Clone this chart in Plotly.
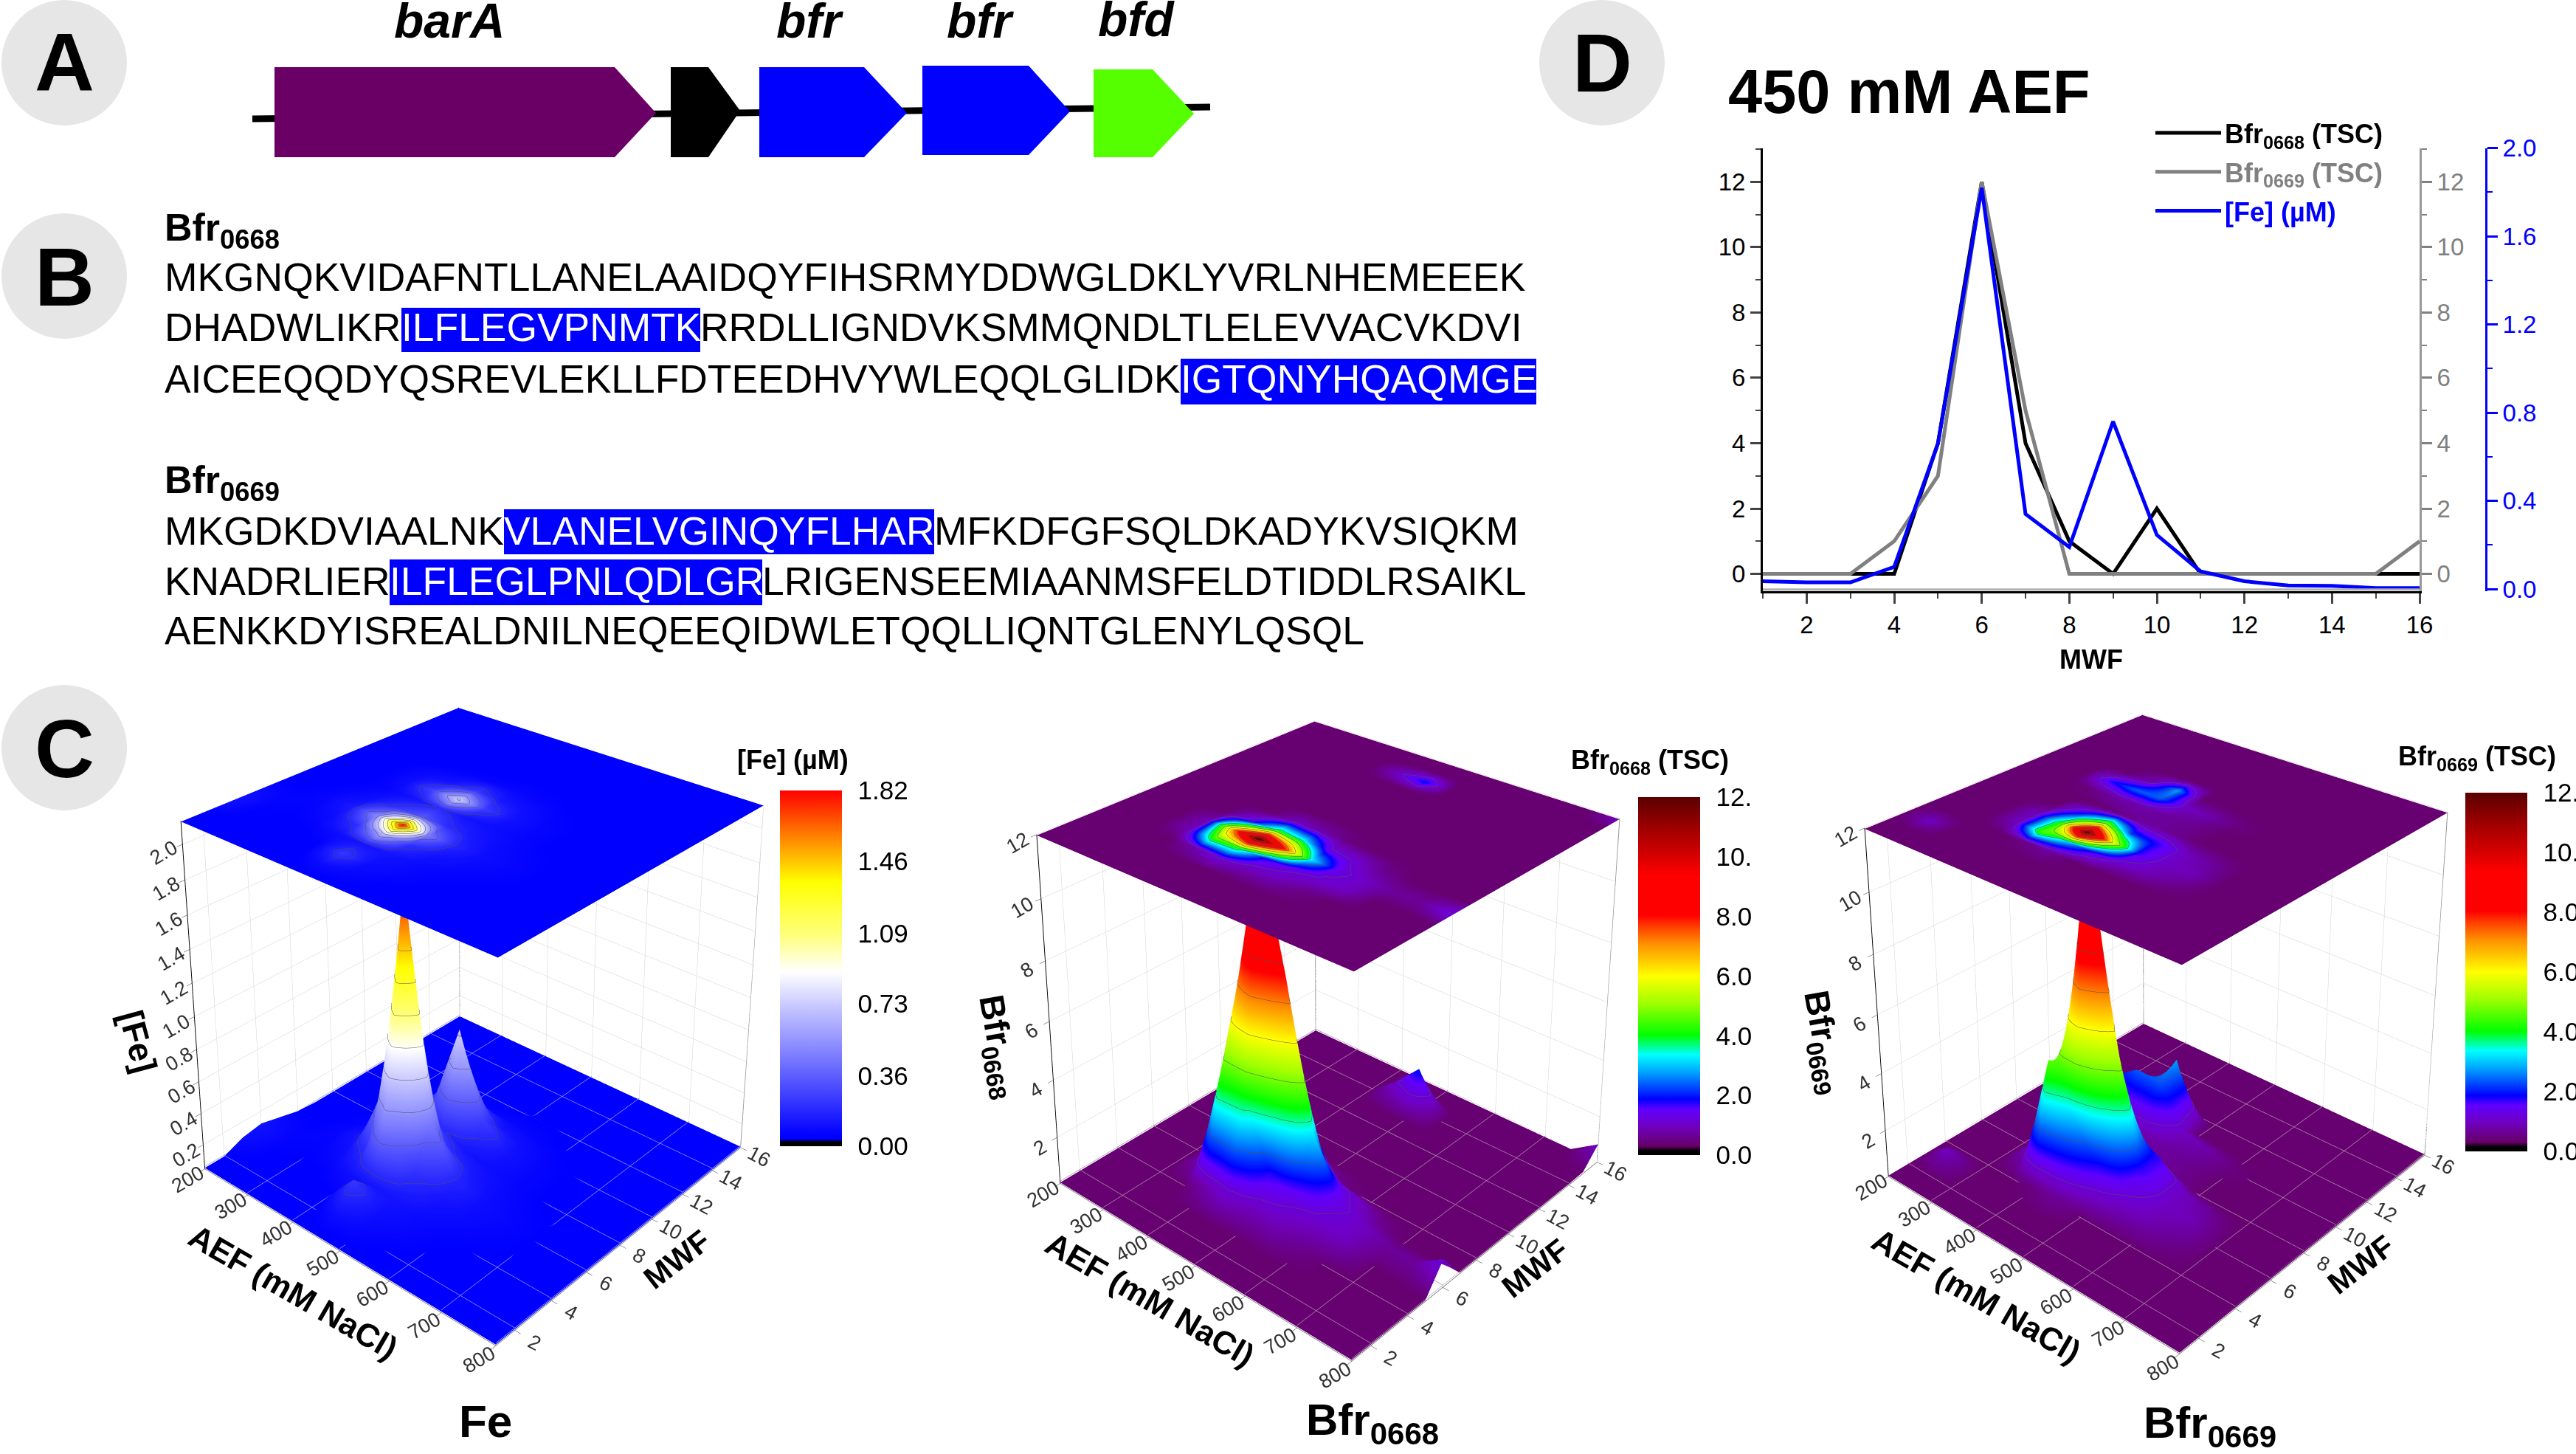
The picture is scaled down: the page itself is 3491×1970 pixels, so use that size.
import numpy as np
import plotly.graph_objects as go

W, H = 3491, 1970
FONT = "Liberation Sans"

# ---------- Panel D data ----------
MWF = list(range(1, 17))
BFR0668_450 = [0, 0, 0, 0, 4, 12, 4, 1, 0, 2, 0, 0, 0, 0, 0, 0]
BFR0669_450 = [0, 0, 0, 1, 3, 12, 5, 0, 0, 0, 0, 0, 0, 0, 0, 1]
FE_450 = [0.035, 0.03, 0.03, 0.10, 0.66, 1.82, 0.34, 0.19, 0.76, 0.245, 0.08, 0.035, 0.016, 0.014, 0.004, 0.004]

# ---------- Panel C data: rows AEF, columns MWF 1..16 ----------
AEF = [200, 250, 300, 350, 400, 450, 500, 550, 600, 650, 700, 750, 800]
FE_GRID = [
    [.04, .05, .10, .12, .09, .06, .05, .05, .05, .05, .05, .05, .05, .04, .03, .03],
    [.03, .04, .06, .07, .07, .06, .05, .05, .05, .05, .05, .04, .04, .04, .03, .03],
    [.03, .04, .05, .06, .07, .08, .07, .06, .06, .06, .05, .05, .04, .04, .03, .03],
    [.03, .04, .05, .07, .10, .14, .10, .08, .10, .09, .06, .05, .04, .04, .03, .03],
    [.03, .04, .06, .10, .22, .52, .22, .12, .28, .12, .07, .05, .04, .04, .03, .03],
    [.035, .10, .24, .12, .66, 1.82, .34, .19, .76, .245, .08, .035, .016, .014, .01, .01],
    [.05, .08, .10, .12, .22, .46, .20, .12, .26, .13, .08, .06, .05, .04, .03, .03],
    [.04, .06, .08, .09, .12, .18, .13, .10, .12, .10, .07, .06, .05, .04, .04, .03],
    [.03, .04, .06, .07, .09, .10, .09, .08, .08, .07, .06, .05, .05, .04, .04, .03],
    [.03, .04, .05, .06, .07, .08, .07, .06, .06, .06, .05, .05, .05, .04, .03, .03],
    [.03, .03, .05, .05, .06, .06, .06, .05, .05, .05, .05, .04, .04, .04, .03, .03],
    [.03, .03, .04, .05, .05, .05, .05, .05, .05, .05, .04, .04, .04, .03, .03, .03],
    [.03, .03, .04, .04, .05, .05, .05, .04, .04, .04, .04, .04, .03, .03, .03, .03],
]
BFR0668_GRID = [
    [0, 0, 0, 0, 0, 0, 0, 0, 0, 0, 0, 0, 0, 0, 0, 0],
    [0, 0, 0, 0, 0, 0, 0, 0, 0, 0, 0, 0, 0, 0, 0, 0],
    [0, 0, 0, 0, 0, 0, 0, 0, 0, 0, 0, 0, 0, 0, 0, 0],
    [0, 0, 0, 0, .9, .9, 0, 0, 0, 0, 0, 0, 0, 0, 0, 0],
    [0, 0, 0, .8, 4.4, 7, 1.6, 0, 0, 0, 0, 0, 0, 0, 0, 0],
    [0, 0, 0, 1.25, 4, 12, 4, 1, 0, .3, 0, 0, 0, 1.1, 0, 0],
    [0, 0, 0, .9, 1.8, 8, 3.4, .8, 0, 0, 0, 0, 0, 2, 0, 0],
    [0, 0, 0, .9, 1.3, 3.4, 1.3, .5, 0, 0, 0, 0, 0, 0, 0, 0],
    [0, 0, 0, .6, 1.1, 1.4, 1.1, 0, 0, 0, 0, 0, 0, 0, 0, 0],
    [0, 0, 0, 0, 1, 1, .6, 0, 0, 0, 0, 0, 0, 0, 0, 0],
    [0, 0, 0, 0, .3, .7, 0, 0, 0, 0, 0, 0, 0, 0, 0, 0],
    [0, 0, 0, 0, 0, .7, 0, 0, 0, 0, 0, 0, 0, 0, 0, 0],
    [0, 0, 0, 0, 0, 1.3, 0, 0, 0, 0, 0, 0, 0, 0, .4, 1],
]
BFR0669_GRID = [
    [0, 0, 0, 0, 0, 0, 0, 0, 0, 0, 0, 0, 0, 0, 0, 0],
    [0, 0, 1, 0, 0, 0, 0, 0, 0, 0, 0, 0, 0, 0, 0, 0],
    [0, 0, 0, 0, 0, 0, 0, 0, 0, 0, 0, 0, 0, 0, 0, 0],
    [0, 0, 0, 0, 1, 1, 0, 0, .5, 1.8, 0, 0, 0, 0, 0, 0],
    [0, 0, 0, .5, 4.6, 4.2, 2.2, 0, .8, 2.4, .9, 0, 0, 0, 0, 0],
    [0, 0, 0, .7, 3, 12, 5, .6, .8, 2.4, 2.8, 0, 0, 0, 0, 0],
    [0, 0, 0, .4, 1.8, 6, 2.2, .7, .7, 1, .4, 0, 0, 0, 0, 0],
    [0, 0, 0, .2, 1.1, 1.8, 1.8, .6, .6, .8, 0, 0, 0, 0, 0, 0],
    [0, 0, 0, 0, .9, 1, 1, .4, .2, .5, 0, 0, 0, 0, 0, 0],
    [0, 0, 0, 0, .6, .9, .7, 0, 0, 0, 0, 0, 0, 0, 0, 0],
    [0, 0, 0, 0, 0, .4, 0, 0, 0, 0, 0, 0, 0, 0, 0, 0],
    [0, 0, 0, 0, 0, 0, 0, 0, 0, 0, 0, 0, 0, 0, 0, 0],
    [0, 0, 0, 0, 0, 0, 0, 0, 0, 0, 0, 0, 0, 0, 0, 0],
]
AEF_TICKS = [200, 300, 400, 500, 600, 700, 800]
MWF_TICKS = [2, 4, 6, 8, 10, 12, 14, 16]
FE_TICKS = [.2, .4, .6, .8, 1.0, 1.2, 1.4, 1.6, 1.8, 2.0]
BFR_TICKS = [2, 4, 6, 8, 10, 12]
FE_BAR_VALS = [0, .36, .73, 1.09, 1.46, 1.82]
FE_BAR_TEXT = ["0.00", "0.36", "0.73", "1.09", "1.46", "1.82"]
BFR_BAR_VALS = [0, 2, 4, 6, 8, 10, 12]
BFR_BAR_TEXT = ["0.0", "2.0", "4.0", "6.0", "8.0", "10.", "12."]

# ---------- Panel B text ----------
SEQ_0668 = [
    [("MKGNQKVIDAFNTLLANELAAIDQYFIHSRMYDDWGLDKLYVRLNHEMEEEK", False)],
    [("DHADWLIKR", False), ("ILFLEGVPNMTK", True), ("RRDLLIGNDVKSMMQNDLTLELEVVACVKDVI", False)],
    [("AICEEQQDYQSREVLEKLLFDTEEDHVYWLEQQLGLIDK", False), ("IGTQNYHQAQMGE", True)],
]
SEQ_0669 = [
    [("MKGDKDVIAALNK", False), ("VLANELVGINQYFLHAR", True), ("MFKDFGFSQLDKADYKVSIQKM", False)],
    [("KNADRLIER", False), ("ILFLEGLPNLQDLGR", True), ("LRIGENSEEMIAANMSFELDTIDDLRSAIKL", False)],
    [("AENKKDYISREALDNILNEQEEQIDWLETQQLLIQNTGLENYLQSQL", False)],
]
GENE_NAMES = ["barA", "bfr", "bfr", "bfd"]
GENE_COLORS = ["#6a0066", "#000000", "#0000ff", "#0000ff", "#55ff00"]

# ---------- colour scales ----------
FE_SCALE = [[0, "#000000"], [.012, "#000000"], [.02, "#0000ff"], [.03, "#0000ff"], [.26, "#8080ff"],
            [.38, "#c0c0ff"], [.49, "#ffffff"], [.59, "#ffff80"], [.742, "#ffff00"], [.84, "#ffa000"], [1, "#ff0000"]]
BFR_SCALE = [[0, "#000000"], [.012, "#000000"], [.025, "#660066"], [.08, "#7000c0"], [.128, "#6000ff"],
             [.156, "#0000ff"], [.23, "#00a0ff"], [.28, "#00ffff"], [.335, "#00ff00"], [.424, "#a0ff00"],
             [.50, "#ffff00"], [.59, "#ff9000"], [.637, "#ff4000"], [.67, "#ff0000"], [.78, "#ff0000"],
             [.843, "#d00000"], [.912, "#a00000"], [1, "#5a0000"]]


def px(x):
    return x / W


def py(y):
    return 1 - y / H


annotations, shapes = [], []


def text(x, baseline, s, size, color="black", bold=False, italic=False, anchor="left"):
    if bold:
        s = f"<b>{s}</b>"
    if italic:
        s = f"<i>{s}</i>"
    annotations.append(dict(x=px(x), y=py(baseline - .905 * size - 1), xref="paper", yref="paper",
                            xanchor=anchor, yanchor="top", text=s, showarrow=False, align="left",
                            font=dict(family=FONT, size=size, color=color), borderpad=0, borderwidth=0))


def rtext(x, y, s, size, angle):
    annotations.append(dict(x=px(x), y=py(y), xref="paper", yref="paper", xanchor="center", yanchor="middle",
                            text=f"<b>{s}</b>", showarrow=False, textangle=angle,
                            font=dict(family=FONT, size=size, color="black")))


def circle(cx, cy, r=85):
    shapes.append(dict(type="circle", xref="paper", yref="paper", layer="below",
                       x0=px(cx - r), x1=px(cx + r), y0=py(cy + r), y1=py(cy - r),
                       fillcolor="#e6e6e6", line_width=0))


def poly(points, color):
    path = "M " + " L ".join(f"{px(a):.5f} {py(b):.5f}" for a, b in points) + " Z"
    shapes.append(dict(type="path", xref="paper", yref="paper", path=path, fillcolor=color, line_width=0))


def rect(x0, y0, x1, y1, color):
    shapes.append(dict(type="rect", xref="paper", yref="paper", layer="below", x0=px(x0), x1=px(x1),
                       y0=py(y1), y1=py(y0), fillcolor=color, line_width=0))


# circles + letters
for cx, cy, base, letter in [(87, 85, 124, "A"), (87, 374, 415, "B"), (87, 1013, 1054, "C"), (2171, 85, 125, "D")]:
    circle(cx, cy)
    text(cx, base, letter, 112, bold=True, anchor="center")

# Panel A
shapes.append(dict(type="line", xref="paper", yref="paper", x0=px(342), x1=px(1640), y0=py(161), y1=py(145),
                   line=dict(color="black", width=9)))
GENE_BOXES = [(372, 833, 889, 91, 213, 153), (909, 960, 1003, 91, 213, 150), (1029, 1171, 1229, 91, 213, 153),
              (1250, 1394, 1450, 89, 210, 151), (1482, 1562, 1618, 94, 213, 154)]
for (x0, x1, tip, t, b, m), c in zip(GENE_BOXES, GENE_COLORS):
    poly([(x0, t), (x1, t), (tip, m), (x1, b), (x0, b)], c)
for name, x, base in zip(GENE_NAMES, [534, 1052, 1283, 1488], [52, 52, 52, 50]):
    text(x, base, name, 66, bold=True, italic=True)

# Panel B
text(223, 327, "Bfr<sub>0668</sub>", 52, bold=True)
text(223, 669, "Bfr<sub>0669</sub>", 52, bold=True)
SEQ_SIZE = 53.4
LINES = [(SEQ_0668[0], 395, [223]), (SEQ_0668[1], 463, [223, 544, 949]), (SEQ_0668[2], 533, [223, 1600]),
         (SEQ_0669[0], 739, [223, 683, 1266]), (SEQ_0669[1], 807, [223, 528, 1033]), (SEQ_0669[2], 874, [223])]
HL = {(1, 1): (544, 417, 949, 477), (2, 1): (1600, 486, 2082, 548), (3, 1): (683, 690, 1266, 751), (4, 1): (528, 758, 1033, 820)}
for i, (segs, base, xs) in enumerate(LINES):
    for j, ((s, hi), x) in enumerate(zip(segs, xs)):
        if hi:
            rect(*HL[(i, j)], "#0000ff")
        text(x, base, s, SEQ_SIZE, color="white" if hi else "black")

# Panel D title and extras
text(2342, 154, "450 mM AEF", 83, bold=True)
shapes.append(dict(type="line", xref="x", yref="y", x0=1, x1=16, y0=-.48, y1=-.48, line=dict(color="#b0b0b0", width=3)))

fig = go.Figure()
names = ["<b>Bfr<sub>0668</sub> (TSC)</b>",
         '<span style="color:#808080"><b>Bfr<sub>0669</sub> (TSC)</b></span>',
         '<span style="color:#0000ff"><b>[Fe] (µM)</b></span>']
for vals, c, ya, nm, g in zip([BFR0668_450, BFR0669_450, FE_450], ["black", "#808080", "#0000ff"], ["y", "y2", "y3"], names, "abc"):
    fig.add_trace(go.Scatter(x=MWF, y=vals, mode="lines", yaxis=ya, name=nm, legendgroup=g,
                             line=dict(color=c, width=5)))


# Panel C
def panel(idx, grid, zmin, ztop, cmax, scale, ztick, zfmt, lvl, cx, cy, bar, barvals, bartext, gridline):
    scene = "scene" if idx == 1 else f"scene{idx}"
    V = np.array(grid, float).T
    Z = np.maximum(V, zmin)
    span = ztop - zmin
    eps = .002 * span / cmax
    top = ztop - eps * (cmax - Z)
    light = dict(ambient=1, diffuse=0, specular=0, roughness=1, fresnel=0)
    # surface
    fig.add_trace(go.Surface(
        x=AEF, y=MWF, z=Z, surfacecolor=Z, cmin=0, cmax=cmax, colorscale=scale, scene=scene, lighting=light,
        contours=dict(z=dict(show=True, start=lvl, end=cmax, size=lvl, color="#505050", width=1)),
        hoverinfo="skip",
        colorbar=dict(x=px(bar[0]), xanchor="left", y=py(bar[2]), yanchor="bottom", len=bar[2] - bar[1], lenmode="pixels",
                      thickness=84, thicknessmode="pixels", xpad=0, ypad=0, outlinewidth=0, tickvals=barvals,
                      ticktext=bartext, ticks="outside", ticklen=15, tickcolor="rgba(0,0,0,0)",
                      tickfont=dict(family=FONT, size=35, color="black"))))
    # flat map on top
    fig.add_trace(go.Surface(
        x=AEF, y=MWF, z=top, surfacecolor=Z, cmin=0, cmax=cmax, colorscale=scale, scene=scene, showscale=False, lighting=light,
        contours=dict(z=dict(show=True, start=ztop - eps * (cmax - lvl), end=ztop, size=eps * lvl, color="#505050", width=1)),
        hoverinfo="skip"))
    # floor grid and the rear vertical edges of the box
    fz = zmin + .004 * span
    gx, gy, gz = [], [], []
    for a in AEF_TICKS:
        gx += [a, a, None]; gy += [1, 16, None]; gz += [fz, fz, None]
    for m in MWF_TICKS:
        gx += [200, 800, None]; gy += [m, m, None]; gz += [fz, fz, None]
    fig.add_trace(go.Scatter3d(x=gx, y=gy, z=gz, mode="lines", scene=scene, showlegend=False, hoverinfo="skip",
                               line=dict(color=gridline, width=1.5)))
    fig.add_trace(go.Scatter3d(x=[200, 200, None, 800, 800], y=[16, 16, None, 16, 16], z=[zmin, ztop, None, zmin, ztop],
                               mode="lines", scene=scene, showlegend=False, hoverinfo="skip",
                               line=dict(color="#909090", width=2)))
    # camera: eye stays fixed relative to the box, centre is tilted to slide the box down the scene
    h = 1970
    unit = 530
    ctr = H - h / 2
    F = h / .8284
    dist = F / unit
    ca, sa, el = .659, .752, np.radians(30.5)
    view = np.array([ca * np.cos(el), -sa * np.cos(el), np.sin(el)])
    up = np.array([-ca * np.sin(el), sa * np.sin(el), np.cos(el)])
    alpha = np.arctan((cy - ctr) / F)
    e = view * dist
    c = e + (-view * np.cos(alpha) + up * np.sin(alpha)) * dist
    axis = dict(showbackground=False, gridcolor="#d0d0d0", gridwidth=1, zeroline=False, showline=True, linecolor="#808080",
                linewidth=2, ticks="outside", ticklen=8, tickcolor="#333333", showspikes=False, title=dict(text=""),
                tickfont=dict(family=FONT, size=18, color="#333333"), autorange=False)
    layout_scene = dict(
        domain=dict(x=[px(cx - 470), px(cx + 470)], y=[0, 1]),
        aspectmode="manual", aspectratio=dict(x=1, y=1, z=1),
        camera=dict(eye=dict(x=e[0], y=e[1], z=e[2]), center=dict(x=c[0], y=c[1], z=c[2]), up=dict(x=0, y=0, z=1)),
        xaxis=dict(axis, range=[200, 800], tickvals=AEF_TICKS, tickangle=-30),
        yaxis=dict(axis, range=[1, 16], tickvals=MWF_TICKS, tickangle=28),
        zaxis=dict(axis, range=[zmin - .003 * span, ztop], tickvals=ztick, tickformat=zfmt, linecolor="black", tickangle=-30),
        bgcolor="rgba(0,0,0,0)")
    fig.update_layout(**{scene: layout_scene})


panel(1, FE_GRID, .05, 2.13, 1.82, FE_SCALE, FE_TICKS, ".1f", .18, 644, 1345, (1057, 1071, 1553), FE_BAR_VALS, FE_BAR_TEXT, "#8f8fff")
panel(2, BFR0668_GRID, .38, 12, 12, BFR_SCALE, BFR_TICKS, "", 1.2, 1804, 1364, (2220, 1080, 1565), BFR_BAR_VALS, BFR_BAR_TEXT, "#a88aa8")
panel(3, BFR0669_GRID, .38, 12, 12, BFR_SCALE, BFR_TICKS, "", 1.2, 2926, 1355, (3341, 1074, 1560), BFR_BAR_VALS, BFR_BAR_TEXT, "#a88aa8")

# panel C texts
text(999, 1043, "[Fe] (µM)", 36, bold=True)
text(2129, 1043, "Bfr<sub>0668</sub> (TSC)", 36, bold=True)
text(3250, 1038, "Bfr<sub>0669</sub> (TSC)", 36, bold=True)
text(658, 1948, "Fe", 62, bold=True, anchor="center")
text(1860, 1945, "Bfr<sub>0668</sub>", 60, bold=True, anchor="center")
text(2995, 1949, "Bfr<sub>0669</sub>", 60, bold=True, anchor="center")
for x, y in [(398, 1750), (1559, 1760), (2679, 1755)]:
    rtext(x, y, "AEF (mM NaCl)", 44, 30)
for x, y in [(917, 1706), (2080, 1718), (3199, 1713)]:
    rtext(x, y, "MWF", 42, -38)
rtext(187, 1411, "[Fe]", 46, 75)
rtext(1352, 1418, "Bfr<sub>0668</sub>", 47, 80)
rtext(2470, 1412, "Bfr<sub>0669</sub>", 47, 80)

tick = dict(family=FONT, size=33)
fig.update_layout(
    width=W, height=H, autosize=False, margin=dict(l=0, r=0, t=0, b=0, autoexpand=False), paper_bgcolor="white", plot_bgcolor="rgba(0,0,0,0)",
    font=dict(family=FONT, color="black"),
    annotations=annotations, shapes=shapes,
    xaxis=dict(domain=[px(2389), px(3279)], range=[1, 16], tick0=2, dtick=2, ticks="outside", ticklen=14, tickwidth=3,
               showgrid=False, zeroline=False, showline=True, linecolor="black", linewidth=3, tickfont=tick,
               minor=dict(dtick=1, tick0=1, ticks="outside", ticklen=7, tickwidth=2, showgrid=False),
               title=dict(text="<b>MWF</b>", font=dict(family=FONT, size=36), standoff=18)),
    yaxis=dict(domain=[py(801), py(200.7)], range=[-.53, 13.03], tick0=0, dtick=2, ticks="outside", ticklen=14, tickwidth=3,
               showgrid=False, zeroline=False, showline=True, linecolor="black", linewidth=3, tickfont=tick, anchor="x",
               minor=dict(dtick=1, tick0=1, ticks="outside", ticklen=7, tickwidth=2, showgrid=False)),
    yaxis2=dict(overlaying="y", side="right", anchor="x", range=[-.53, 13.03], tick0=0, dtick=2, ticks="outside", ticklen=14,
                tickwidth=3, showgrid=False, zeroline=False, showline=True, linecolor="#999999", linewidth=3,
                tickcolor="#808080", tickfont=dict(family=FONT, size=33, color="#808080"),
                minor=dict(dtick=1, tick0=1, ticks="outside", ticklen=7, tickwidth=2, tickcolor="#808080", showgrid=False)),
    yaxis3=dict(overlaying="y", side="right", anchor="free", position=px(3369), range=[-.01, 2.0], tick0=0, dtick=.4,
                tickformat=".1f", ticks="outside", ticklen=14, tickwidth=3, showgrid=False, zeroline=False, showline=True,
                linecolor="#0000ff", linewidth=3, tickcolor="#0000ff", tickfont=dict(family=FONT, size=33, color="#0000ff"),
                minor=dict(dtick=.2, tick0=0, ticks="outside", ticklen=7, tickwidth=2, tickcolor="#0000ff", showgrid=False)),
    legend=dict(x=px(2916), xanchor="left", y=py(150), yanchor="top", bgcolor="rgba(0,0,0,0)", borderwidth=0, itemwidth=89,
                tracegroupgap=3, font=dict(family=FONT, size=36), itemclick=False, itemdoubleclick=False),
    showlegend=True,
)
fig.write_html("out.html", config=dict(displayModeBar=False),
               post_script="document.body.style.margin='0';document.documentElement.style.overflow='hidden';")
